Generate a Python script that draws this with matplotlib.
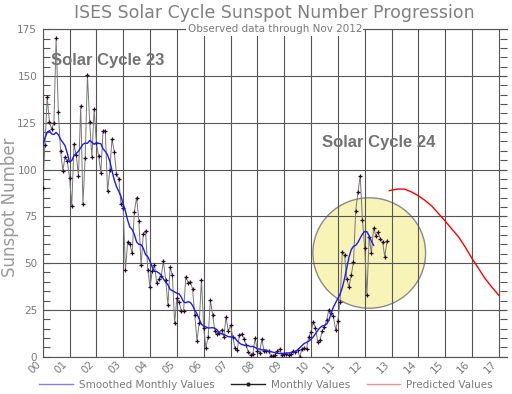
"""ISES solar cycle sunspot number progression (observed through Nov 2012)."""
import matplotlib
matplotlib.use("Agg")
import matplotlib.pyplot as plt  # noqa: E402
import numpy as np  # noqa: E402
from matplotlib.lines import Line2D  # noqa: E402
from matplotlib.patches import Ellipse  # noqa: E402

# ── data (years since 2000) ──
monthly = [
    90.1, 112.9, 138.5, 125.5, 121.6, 124.9, 170.1, 130.5, 109.7, 99.4, 106.8, 104.4,   # 2000
    95.6, 80.6, 113.5, 107.7, 96.6, 134.0, 81.8, 106.4, 150.7, 125.5, 106.5, 132.2,     # 2001
    114.1, 107.4, 98.4, 120.7, 120.8, 88.3, 99.6, 116.4, 109.6, 97.5, 95.0, 81.6,       # 2002
    79.5, 46.2, 61.5, 60.0, 55.2, 77.4, 85.0, 72.7, 48.8, 65.5, 67.3, 46.5,             # 2003
    37.3, 45.8, 49.1, 39.3, 41.5, 43.2, 51.1, 40.9, 27.7, 48.0, 43.5, 17.9,             # 2004
    31.3, 29.2, 24.5, 24.4, 42.6, 39.6, 39.9, 36.4, 22.1, 8.5, 18.0, 41.2,              # 2005
    15.3, 4.9, 10.6, 30.2, 22.3, 13.9, 12.2, 12.9, 14.4, 10.5, 21.4, 13.6,              # 2006
    16.8, 10.7, 4.5, 3.4, 11.7, 12.1, 9.7, 6.0, 2.4, 0.9, 1.7, 10.1,                    # 2007
    3.3, 2.1, 9.3, 2.9, 2.9, 3.1, 0.5, 0.5, 1.1, 2.9, 4.1, 0.8,                         # 2008
    1.5, 1.4, 0.7, 1.2, 2.9, 2.6, 3.5, 0.0, 4.2, 4.6, 4.2, 10.6,                        # 2009
    13.1, 18.6, 15.4, 7.9, 8.8, 13.5, 16.1, 19.6, 25.2, 23.5, 21.6, 14.4,               # 2010
    19.0, 29.4, 56.2, 54.4, 41.6, 37.0, 43.9, 50.6, 78.0, 88.0, 96.7, 73.0,             # 2011
    58.3, 33.1, 64.2, 55.2, 69.0, 64.5, 66.5, 63.0, 61.4, 53.3, 61.8,                   # 2012
]
smoothed = [
    112.9, 116.8, 119.9, 120.8, 119.0, 118.7, 119.8, 118.6, 116.1, 114.5, 112.7, 108.7,
    104.0, 104.8, 107.5, 108.6, 109.8, 111.7, 113.5, 114.1, 114.0, 115.5, 114.6, 113.5,
    114.2, 114.0, 113.8, 111.0, 109.7, 107.8, 104.5, 99.3, 94.5, 90.8, 88.4, 85.7,
    81.6, 77.8, 72.9, 69.2, 68.0, 65.3, 61.3, 60.0, 59.9, 57.9, 54.6, 53.4,
    51.0, 47.8, 45.6, 45.5, 44.7, 43.6, 41.5, 39.9, 38.4, 35.9, 35.3, 34.6,
    33.9, 33.6, 31.8, 29.3, 28.8, 29.4, 29.0, 27.4, 24.9, 22.9, 20.1, 17.3,
    16.3, 15.9, 15.3, 15.4, 15.5, 15.2, 14.4, 12.7, 12.2, 11.9, 11.3, 10.7,
    10.6, 10.3, 9.9, 8.4, 7.3, 6.5, 6.2, 6.0, 5.9, 5.4, 5.5, 4.9,
    4.2, 4.1, 3.6, 3.7, 3.4, 2.8, 2.7, 2.4, 2.1, 1.8, 1.7, 1.7,
    1.8, 1.9, 2.0, 2.2, 2.3, 2.7, 3.6, 4.8, 6.0, 7.1, 7.6, 8.3,
    9.3, 10.6, 12.3, 14.0, 15.5, 16.4, 16.7, 17.4, 19.6, 23.2, 26.5, 28.8,
    31.0, 33.4, 36.9, 41.8, 47.6, 53.2, 57.2, 59.0, 59.5, 61.1, 63.4, 65.5,
    66.9, 66.8, 64.6, 61.7, 59.5,
]
pred_years = [12.917, 13.0, 13.25, 13.5, 13.75, 14.0, 14.25, 14.5, 14.75, 15.0,
              15.25, 15.5, 15.75, 16.0, 16.25, 16.5, 16.75, 17.0]
pred_vals = [88.7, 89.0, 89.6, 89.5, 88.0, 86.0, 83.5, 80.5, 76.5, 72.5,
             68.2, 64.0, 58.5, 52.5, 47.0, 41.5, 37.0, 32.8]
year_labels = [f"{y:02d}" for y in range(18)]

m_years = np.arange(len(monthly)) / 12
s_years = np.arange(len(smoothed)) / 12

GRAY_TXT = "#7a7a7a"

fig = plt.figure(figsize=(5.12, 3.94), dpi=100)
ax = fig.add_axes([0.0834, 0.0947, 0.9066, 0.8313])

# highlight circle around cycle 24
ax.add_patch(Ellipse((12.17, 55.4), 4.2, 59, facecolor="#f8f4b8",
                     edgecolor="#8a8a8a", lw=1.0, zorder=0.3))

ax.plot(m_years, monthly, color="#777777", lw=0.7, zorder=2)
ax.plot(m_years, monthly, ls="none", marker="+", ms=3, mew=0.9,
        color="#2b0b2b", zorder=3)
ax.plot(s_years, smoothed, color="#1a1aff", lw=1.0, zorder=4)
ax.plot(pred_years, pred_vals, color="#ff0000", lw=1.0, zorder=4)

ax.set_xlim(0, 17.3)
ax.set_ylim(0, 175)
ax.set_xticks(range(18))
ax.set_xticklabels(year_labels, rotation=45, ha="right", fontsize=7.5,
                   color=GRAY_TXT)
ax.set_yticks(range(0, 176, 25))
ax.set_yticklabels([str(v) for v in range(0, 176, 25)], fontsize=7.5,
                   color=GRAY_TXT)
ax.set_yticks(range(0, 176, 5), minor=True)
ax.tick_params(axis="x", length=0, pad=2)
ax.tick_params(axis="y", which="both", direction="in", length=5,
               width=0.8, color="#555555", left=True, right=True, pad=4)
ax.grid(True, which="major", color="#555555", lw=0.8, zorder=0.5)
ax.set_axisbelow(True)
for side in ("left", "bottom", "top"):
    ax.spines[side].set_color("#555555")
    ax.spines[side].set_linewidth(0.8)
ax.spines["right"].set_visible(False)

ax.text(0.3, 158.5, "Solar Cycle 23", fontsize=12, fontweight="bold",
        family="Liberation Sans", color="#737373", va="center")
ax.text(10.4, 114.5, "Solar Cycle 24", fontsize=12, fontweight="bold",
        family="Liberation Sans", color="#737373", va="center")

ax.text(0.5, 1.0, "Observed data through Nov 2012", transform=ax.transAxes,
        ha="center", va="center", fontsize=7.5, color=GRAY_TXT,
        bbox=dict(facecolor="white", edgecolor="none", pad=1.0), zorder=6)
fig.text(0.535, 0.967, "ISES Solar Cycle Sunspot Number Progression",
         ha="center", va="center", fontsize=12.5, color="#808080")
fig.text(0.019, 0.475, "Sunspot Number", rotation=90, ha="center",
         va="center", fontsize=12, color="#9a9a9a")

handles = [
    Line2D([], [], color="#7f7fff", lw=1.0),
    Line2D([], [], color="#202020", lw=1.0, marker=".", ms=4),
    Line2D([], [], color="#ff8a8a", lw=1.0),
]
labels = ["Smoothed Monthly Values", "Monthly Values", "Predicted Values"]
leg = fig.legend(handles, labels, loc="center", bbox_to_anchor=(0.52, 0.024),
                 ncol=3, frameon=False, fontsize=7.5, handlelength=3.2,
                 columnspacing=1.6, handletextpad=0.6)
for t in leg.get_texts():
    t.set_color(GRAY_TXT)

fig.savefig("out.png", dpi=100)
